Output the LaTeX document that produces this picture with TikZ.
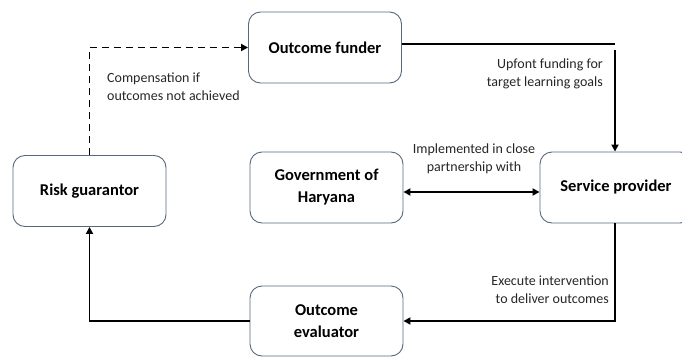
\documentclass[tikz,border=0pt]{standalone}
\usepackage{fontspec}
\setmainfont{Carlito}
\usetikzlibrary{arrows.meta}
\tikzset{
	actor/.style={draw=boxcol, line width=0.9pt, rounded corners=12pt, minimum width=153pt, minimum height=71pt, align=center, font=\fontsize{16.5}{22}\selectfont\bfseries},
	flow/.style={line width=1.8pt},
	note/.style={font=\fontsize{14}{18}\selectfont, inner sep=0pt, text=black!85}
}
\definecolor{boxcol}{RGB}{84,104,128}
\begin{document}
	\begin{tikzpicture}[x=1pt, y=-1pt, >={Triangle[length=7pt,width=7pt]}]
		\useasboundingbox (0,0) rectangle (682,356);
		\node[actor] (funder) at (325,47.5) {Outcome funder};
		\node[actor] (risk) at (89.5,191) {Risk guarantor};
		\node[actor] (gov) at (326.5,187.5) {Government of\\Haryana};
		\node[actor, minimum width=152pt] (service) at (616,187.5) {Service provider};
		\node[actor, minimum height=70pt] (evaluator) at (326.5,321) {Outcome\\evaluator};
		\coordinate (turn) at (615,44);
		\coordinate (drop) at (615,50);
		\draw[flow, dash pattern=on 7pt off 5pt, ->] (risk.north) |- (funder.west);
		\draw[flow] ([yshift=3.5pt]funder.east) -- (turn);
		\draw[flow, ->] (drop) -- (drop |- service.north);
		\draw[flow, <->] ([yshift=-4.5pt]gov.east) -- ([yshift=-4.5pt]service.west);
		\draw[flow, ->] (service.south -| turn) |- (evaluator.east);
		\draw[flow, ->] (evaluator.west) -| (risk.south);
		\node[note, anchor=west, align=left] (comp) at (107,87) {Compensation if\\outcomes not achieved};
		\node[note, anchor=east, align=right] (upfront) at (603,74) {Upfont funding for\\target learning goals};
		\node[note, align=center] (impl) at (474,159) {Implemented in close\\partnership with};
		\node[note, anchor=east, align=right] (exec) at (609,289.5) {Execute intervention\\to deliver outcomes};
	\end{tikzpicture}
\end{document}
